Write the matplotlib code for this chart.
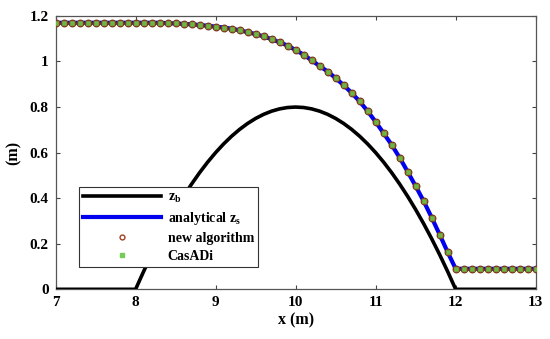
import numpy as np
import matplotlib
matplotlib.use("Agg")
import matplotlib.pyplot as plt
from matplotlib.lines import Line2D

plt.rcParams['font.family'] = ['Liberation Serif', 'DejaVu Serif']
plt.rcParams['font.weight'] = 'bold'
plt.rcParams['mathtext.default'] = 'regular'

# bed elevation z_b
x_bed = [7.0, 8.0, 8.1, 8.2, 8.3, 8.4, 8.5, 8.6, 8.7, 8.8, 8.9, 9.0, 9.1, 9.2, 9.3, 9.4,
         9.5, 9.6, 9.7, 9.8, 9.9, 10.0, 10.1, 10.2, 10.3, 10.4, 10.5, 10.6, 10.7, 10.8,
         10.9, 11.0, 11.1, 11.2, 11.3, 11.4, 11.5, 11.6, 11.7, 11.8, 11.9, 12.0, 13.0]
z_b = [0.0, 0.0, 0.078, 0.152, 0.222, 0.288, 0.350, 0.408, 0.462, 0.512, 0.558, 0.600,
       0.638, 0.672, 0.702, 0.728, 0.750, 0.768, 0.782, 0.792, 0.798, 0.800, 0.798,
       0.792, 0.782, 0.768, 0.750, 0.728, 0.702, 0.672, 0.638, 0.600, 0.558, 0.512,
       0.462, 0.408, 0.350, 0.288, 0.222, 0.152, 0.078, 0.0, 0.0]

# free surface z_s sampled every 0.1 m from 7 to 13
x_s = [round(7.0 + 0.1 * i, 1) for i in range(61)]
z_s = [1.170, 1.170, 1.170, 1.170, 1.170, 1.170, 1.170, 1.170, 1.170, 1.170,  # 7.0-7.9
       1.170, 1.170, 1.170, 1.170, 1.168, 1.167, 1.165, 1.163, 1.160, 1.157,  # 8.0-8.9
       1.153, 1.149, 1.144, 1.137, 1.129, 1.120, 1.110, 1.098, 1.084, 1.070,  # 9.0-9.9
       1.050, 1.030, 1.005, 0.980, 0.956, 0.927, 0.896, 0.862, 0.825, 0.782,  # 10.0-10.9
       0.735, 0.685, 0.634, 0.578, 0.516, 0.453, 0.387, 0.315, 0.240, 0.163,  # 11.0-11.9
       0.090, 0.090, 0.090, 0.090, 0.090, 0.090, 0.090, 0.090, 0.090, 0.090,  # 12.0-12.9
       0.090]                                                                 # 13.0

fig = plt.figure(figsize=(5.5, 3.39), dpi=100)
ax = fig.add_axes([0.101, 0.1466, 0.873, 0.8064])

ax.plot(x_bed, z_b, color='black', lw=2.6, zorder=3, solid_joinstyle='round')
ax.plot(x_s, z_s, color='#0000ee', lw=3.0, zorder=4)
ax.plot(x_s, z_s, ls='none', marker='o', ms=4.8, mfc='#8a8a3a', mec='#7a3a1a', mew=0.9,
        zorder=5)
ax.plot(x_s, z_s, ls='none', marker='x', ms=2.5, color='#66bb44', mew=1.0, zorder=6)

ax.set_xlim(7, 13)
ax.set_ylim(0, 1.2)
ax.set_xticks([7, 8, 9, 10, 11, 12, 13])
ax.set_yticks([0, 0.2, 0.4, 0.6, 0.8, 1.0, 1.2])
ax.set_yticklabels(['0', '0.2', '0.4', '0.6', '0.8', '1', '1.2'])
ax.tick_params(direction='in', top=True, right=True, length=3, width=0.8,
               color='#444444', labelsize=11, pad=5)
for lab in ax.get_xticklabels() + ax.get_yticklabels():
    lab.set_fontweight('bold')
for s in ax.spines.values():
    s.set_color('#555555')
    s.set_linewidth(0.9)

ax.set_xlabel('x (m)', fontsize=11.5, fontweight='bold', labelpad=2)
ax.set_ylabel('(m)', fontsize=11.5, fontweight='bold', labelpad=6)

handles = [
    Line2D([], [], color='black', lw=2.6),
    Line2D([], [], color='#0000ee', lw=3.0),
    Line2D([], [], ls='none', marker='o', ms=3.5, mfc='none', mec='#a04020', mew=1.0),
    Line2D([], [], ls='none', marker='s', ms=2.2, mfc='#77cc55', mec='#77cc55'),
]
labels = ['z$_{\\mathregular{b}}$', 'analytical z$_{\\mathregular{s}}$',
          'new algorithm', 'CasADi']
leg = ax.legend(handles, labels, loc='lower left', bbox_to_anchor=(0.0485, 0.0816),
                borderaxespad=0, fancybox=False, edgecolor='#333333', framealpha=1,
                handlelength=5.6, handletextpad=0.5, labelspacing=0.35,
                prop={'family': ['Liberation Serif'], 'weight': 'bold', 'size': 10},
                borderpad=0.3)
leg.get_frame().set_linewidth(0.8)

fig.savefig('out.png', dpi=100)
